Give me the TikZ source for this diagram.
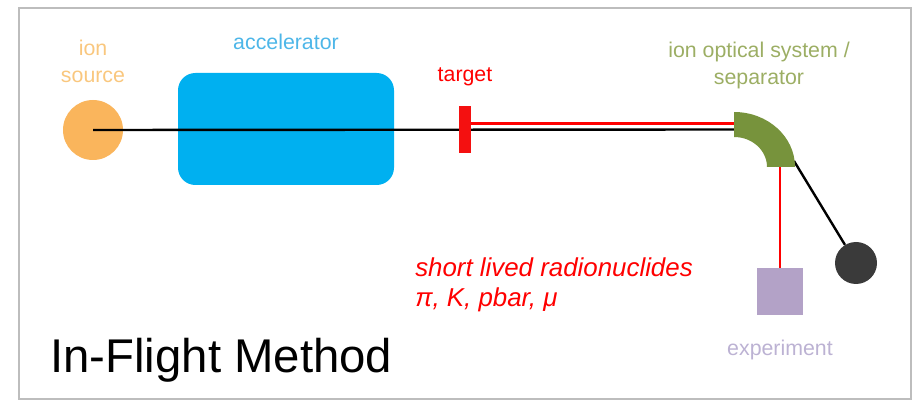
\documentclass[tikz,border=0pt]{standalone}
\usepackage{fontspec}
\setmainfont{Liberation Sans}
\usetikzlibrary{positioning}
\definecolor{srcorange}{HTML}{FAB55C}
\definecolor{srclabel}{HTML}{F9C77E}
\definecolor{accblue}{HTML}{00B0F0}
\definecolor{acclabel}{HTML}{4DB6E8}
\definecolor{tgtred}{HTML}{F41010}
\definecolor{sepgreen}{HTML}{77933C}
\definecolor{seplabel}{HTML}{9CAE64}
\definecolor{explilac}{HTML}{B3A2C7}
\definecolor{explabel}{HTML}{BCB2D3}
\definecolor{dumpgray}{HTML}{3A3A3A}
\definecolor{framegray}{HTML}{BDBDBD}

\begin{document}
\begin{tikzpicture}[x=0.75pt, y=-0.75pt,
  every node/.style={inner sep=0pt, align=center, font=\fontsize{16}{20.25}\selectfont},
  beam/.style={line width=1.8pt, black},
  redbeam/.style={line width=1.6pt, red}]
  \useasboundingbox (0,0) rectangle (917,402);
  \draw[framegray, line width=1.5pt] (19,8) rectangle (911,399);

  \node[circle, fill=srcorange, minimum size=45pt] (source) at (93,130) {};
  \node[fill=accblue, rounded corners=13pt,
    minimum width=162pt, minimum height=84pt] (accel) at (286,129) {};
  \node[fill=tgtred, minimum width=9pt, minimum height=35pt] (target) at (465,129.5) {};
  \node[fill=explilac, minimum width=34.5pt, minimum height=35pt] (exp) at (780,291.5) {};
  \node[circle, fill=dumpgray, minimum size=31.5pt] (dump) at (856,263) {};

  % separator: quarter ring
  \coordinate (sepc) at (734,167);
  \coordinate (sepin) at (734,129.5);
  \coordinate (sepinr) at (734,123.5);
  \coordinate (sepdown) at (780,167);
  \coordinate (sepout) at (794,161);

  \draw[beam] (source.center) -- (sepin);
  \draw[redbeam] (target.east |- sepinr) -- (sepinr);
  \draw[redbeam] (sepdown) -- (exp.north);
  \draw[beam] (sepout) -- (dump);
  \node[fill=tgtred, minimum width=9pt, minimum height=35pt] at (target) {};

  \fill[sepgreen] (734,112) arc[start angle=90, end angle=0, x radius=45.75pt, y radius=41.25pt]
    -- (767,167) arc[start angle=0, end angle=90, x radius=24.75pt, y radius=22.5pt] -- cycle;

  % labels
  \node[text=srclabel, above=12.75pt of source] (sourcelbl) {ion\\source};
  \node[text=acclabel, above=17pt of accel] (accellbl) {accelerator};
  \node[text=red, anchor=base] (targetlbl) at (465,82) {target};
  \node[text=seplabel, anchor=south] (seplbl) at (759,89.5) {ion optical system /\\separator};
  \node[text=explabel, below=18.5pt of exp] (explbl) {experiment};
  \node[text=red, anchor=north west, align=left,
    font=\itshape\fontsize{19.4}{22.5}\selectfont] (products) at (415,257)
    {short lived radionuclides\\π, K, pbar, μ};
  \node[anchor=base west, font=\fontsize{35.5}{40}\selectfont] (method) at (50,373) {In-Flight Method};
\end{tikzpicture}
\end{document}
